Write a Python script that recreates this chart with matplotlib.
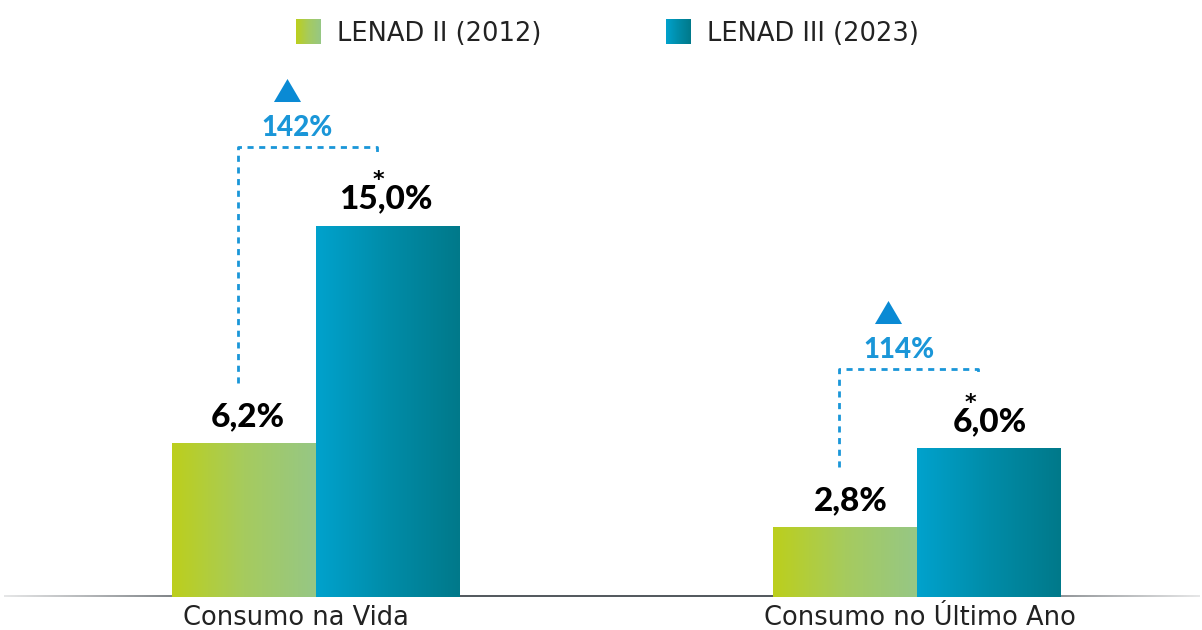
import numpy as np
import matplotlib
matplotlib.use("Agg")
import matplotlib.pyplot as plt
from matplotlib.colors import LinearSegmentedColormap

categories = ["Consumo na Vida", "Consumo no Último Ano"]
series_names = ["LENAD II (2012)", "LENAD III (2023)"]
lenad2 = [6.2, 2.8]
lenad3 = [15.0, 6.0]
value_labels2 = ["6,2%", "2,8%"]
value_labels3 = ["15,0%", "6,0%"]
increase_labels = ["142%", "114%"]

GREEN = LinearSegmentedColormap.from_list("g", ["#bccf1c", "#a6cb5e", "#96c785"])
BLUE = LinearSegmentedColormap.from_list("b", ["#00a2cd", "#008ca8", "#00798a"])
ACCENT = "#1a96d8"
TRI = "#0a8ad4"
BOLD_FONT = "Lato"
REG_FONT = "DejaVu Sans"
PT = 0.72  # points per pixel at dpi 100

fig = plt.figure(figsize=(12.02, 6.3), dpi=100)
ax = fig.add_axes([0, (630 - 597) / 630, 1, 537 / 630])
ax.set_axis_off()

px_x = 601.0   # pixels per x unit
px_y = 24.7    # pixels per y unit
width = 144 / px_x
x = np.arange(len(categories))
grad = np.linspace(0, 1, 256).reshape(1, -1)

tri_marker = [(-1, -0.85), (1, -0.85), (0, 0.85), (-1, -0.85)]

label2_dx = [4, 6]
label3_dx = [-2, 1]
ast_dx = [-10, -19]
cat_dx = [-20, 3]

for i in range(len(categories)):
    cg = x[i] - width / 2
    cb = x[i] + width / 2
    ax.imshow(grad, extent=[x[i] - width, x[i], 0, lenad2[i]], aspect="auto",
              cmap=GREEN, zorder=2, interpolation="bicubic")
    ax.imshow(grad, extent=[x[i], x[i] + width, 0, lenad3[i]], aspect="auto",
              cmap=BLUE, zorder=2, interpolation="bicubic")
    ax.annotate(value_labels2[i], (cg, lenad2[i]), xytext=(label2_dx[i] * PT, 18 * PT),
                textcoords="offset points", ha="center", va="baseline", fontsize=24,
                fontweight="black", family=BOLD_FONT, color="black")
    ax.annotate(value_labels3[i], (cb, lenad3[i]), xytext=(label3_dx[i] * PT, 18 * PT),
                textcoords="offset points", ha="center", va="baseline", fontsize=24,
                fontweight="black", family=BOLD_FONT, color="black")
    ax.annotate("*", (cb, lenad3[i]), xytext=(ast_dx[i] * PT, 40 * PT), textcoords="offset points",
                ha="center", va="baseline", fontsize=16, fontweight="bold",
                family="DejaVu Sans", color="black")

    # bracket
    xl = cg - 6 / px_x
    xr = cb - 11 / px_x
    y_bot = lenad2[i] + 61 / px_y
    y_top = lenad3[i] + 80 / px_y
    y_tick = y_top - 8 / px_y
    ax.plot([xl, xl, xr, xr], [y_bot, y_top, y_top, y_tick], color=ACCENT, lw=2.0,
            linestyle=(0, (2.2, 2.0)), zorder=3)
    xm = (xl + xr) / 2
    ax.annotate(increase_labels[i], (xm, y_top), xytext=(-10 * PT, 11 * PT),
                textcoords="offset points", ha="center", va="baseline", fontsize=20,
                fontweight="black", family=BOLD_FONT, color=ACCENT)
    ax.plot([xm - 21 / px_x], [y_top + 57 / px_y], marker=tri_marker, markersize=19.5,
            color=TRI, markeredgewidth=0, zorder=4, linestyle="none")

# baseline with faded ends
n = 600
base = np.zeros((1, n, 4))
base[0, :, :3] = np.array([0x55, 0x5b, 0x60]) / 255
t = np.linspace(0, 1, n)
base[0, :, 3] = np.clip(0.15 + 0.85 * np.minimum(t, 1 - t) / 0.2, 0, 1)
xlim = (-316 / px_x, (1202 - 316) / px_x)
ax.imshow(base, extent=[xlim[0] + 4 / px_x, xlim[1] - 2 / px_x, -1.5 / px_y, 1.5 / px_y],
          aspect="auto", zorder=1, interpolation="bilinear")

ax.set_xlim(*xlim)
ax.set_ylim(0, 537 / px_y)

for i, c in enumerate(categories):
    ax.annotate(c, (x[i], 0), xytext=(cat_dx[i] * PT, -28 * PT), textcoords="offset points",
                ha="center", va="baseline", fontsize=18.5, family=REG_FONT, color="#222222",
                annotation_clip=False)

# legend (figure pixel overlay)
lax = fig.add_axes([0, 0, 1, 1])
lax.set_axis_off()
lax.patch.set_alpha(0)
legend_sq = [(296, GREEN), (666, BLUE)]
for (sx, cmap), name in zip(legend_sq, series_names):
    lax.imshow(grad, extent=[sx, sx + 25, 44, 19], aspect="auto", cmap=cmap, interpolation="bicubic")
    lax.text(sx + 41, 41, name, ha="left", va="baseline", fontsize=18.5, family=REG_FONT,
             color="#222222")
lax.set_xlim(0, 1202)
lax.set_ylim(630, 0)

fig.savefig("out.png", dpi=100, facecolor="white")
